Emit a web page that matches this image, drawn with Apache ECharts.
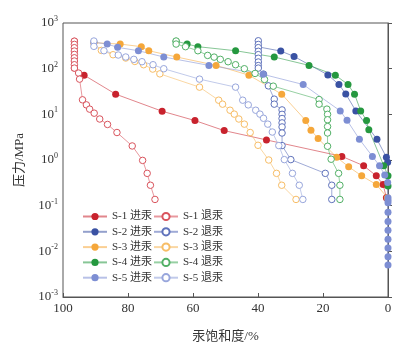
<!DOCTYPE html>
<html>
<head>
<meta charset="utf-8">
<script src="https://cdn.jsdelivr.net/npm/echarts@6/dist/echarts.min.js"></script>
<style>
  html, body { margin: 0; padding: 0; background: #fff; }
  #chart { width: 405px; height: 349px; }
</style>
</head>
<body>
<div id="chart"></div>
<script>
// Mercury intrusion / extrusion capillary pressure curves, samples S-1 ... S-5.
// Each point is [mercury saturation %, pressure MPa].

const sampleNames = ['S-1', 'S-2', 'S-3', 'S-4', 'S-5'];
const intrusionTag = '进汞';
const extrusionTag = '退汞';

const xTitle = '汞饱和度/%';
const yTitle = '压力/MPa';
const xTicks = [100, 80, 60, 40, 20, 0];
const yTickExponents = [-3, -2, -1, 0, 1, 2, 3];

const s1Intrusion = [[0.5, 0.15], [1.5, 0.29], [3.6, 0.45], [7.5, 0.75], [14.2, 1.2], [37.4, 2.75], [50.4, 4.4], [59.4, 7.3], [69.5, 11.7], [83.8, 27.7], [93.5, 72], [96.5, 103], [96.5, 400]];
const s1Extrusion = [[96.5, 400], [96.5, 340], [96.5, 288], [96.5, 243], [96.5, 205], [96.5, 173], [96.5, 147], [96.5, 122], [96.5, 103], [95.2, 80], [94.9, 59], [94.0, 20.8], [92.8, 16.1], [91.8, 13.0], [90.4, 10.6], [88.7, 7.9], [86.3, 6.0], [83.4, 4.0], [78.7, 2.03], [75.5, 0.98], [74.1, 0.51], [73.1, 0.28], [71.7, 0.137]];

const s2Intrusion = [[0.1, 0.89], [0.5, 1.15], [3.4, 2.85], [9.9, 11.9], [13.0, 28], [15.1, 45], [18.5, 73], [28.9, 185], [33.0, 243], [39.9, 300]];
const s2Extrusion = [[39.9, 408], [39.9, 339], [39.9, 289], [39.9, 240], [39.9, 203], [39.9, 169], [39.9, 140], [39.9, 117], [39.9, 103], [38.3, 76], [36.8, 42], [35.0, 21.5], [35.0, 16.7], [32.6, 12.5], [32.6, 10.0], [32.6, 8.1], [32.6, 6.5], [32.6, 5.3], [32.6, 3.9], [32.6, 2.07], [29.9, 1.02], [19.3, 0.51], [17.3, 0.28], [17.3, 0.137]];

const s3Intrusion = [[0.2, 0.15], [3.6, 0.29], [8.1, 0.45], [12.1, 0.71], [15.8, 1.15], [21.5, 2.95], [23.7, 4.5], [25.3, 7.3], [32.7, 27.7], [42.8, 72], [52.9, 118], [65.0, 180], [73.6, 247], [75.9, 303], [82.4, 346], [90.5, 370]];
const s3Extrusion = [[90.5, 370], [88.2, 251], [84.6, 202], [80.7, 171], [77.9, 144], [75.2, 122], [72.4, 98], [70.2, 77], [58.0, 39.4], [52.1, 20.4], [50.9, 16.7], [48.6, 12.3], [47.3, 10.1], [45.9, 7.9], [44.2, 6.1], [42.4, 4.0], [40.0, 2.1], [36.7, 1.0], [34.3, 0.51], [32.7, 0.28], [28.3, 0.137]];

const s4Intrusion = [[0, 0.27], [0, 0.45], [1.3, 0.75], [5.9, 4.6], [6.6, 7.3], [8.4, 11.9], [10.3, 27.7], [12.3, 45], [16.2, 72], [24.3, 118], [35.0, 180], [46.9, 247], [58.5, 303], [61.8, 346], [65.2, 400]];
const s4Extrusion = [[65.2, 403], [65.2, 346], [62.3, 303], [58.5, 247], [55.5, 195], [53.5, 179], [51.6, 160], [49.2, 142], [46.9, 122], [44.2, 99.6], [40.9, 78.6], [38.0, 58], [35.3, 41.4], [21.2, 21.1], [21.2, 16.7], [18.8, 13.0], [18.6, 10.0], [18.6, 7.6], [18.6, 5.4], [18.6, 3.9], [18.6, 2.0], [17.5, 1.04], [15.2, 0.51], [14.8, 0.28], [14.8, 0.137]];

const s5Intrusion = [[0, 0.005], [0, 0.0076], [0, 0.0119], [0, 0.0185], [0, 0.029], [0, 0.045], [0, 0.072], [0, 0.116], [0, 0.132], [0, 0.149], [0.1, 0.32], [1.0, 0.47], [2.6, 0.75], [4.8, 1.2], [8.8, 2.85], [12.6, 7.4], [14.7, 11.9], [26.1, 45], [38.4, 75], [55.1, 118], [69.0, 180], [76.8, 247], [83.2, 293], [86.4, 346], [90.5, 380]];
const s5Extrusion = [[90.5, 403], [90.5, 308], [87.4, 247], [83.0, 199], [80.7, 180], [78.2, 160], [75.7, 142], [72.3, 122], [69.0, 99.6], [58.0, 59], [46.9, 39.4], [44.7, 20.4], [43.0, 16.1], [40.7, 12.3], [39.4, 10.1], [38.3, 8.2], [37.0, 6.1], [35.6, 4.1], [33.6, 2.07], [31.9, 1.02], [29.4, 0.51], [27.3, 0.28], [26.2, 0.137]];

const intrusionData = [s1Intrusion, s2Intrusion, s3Intrusion, s4Intrusion, s5Intrusion];
const extrusionData = [s1Extrusion, s2Extrusion, s3Extrusion, s4Extrusion, s5Extrusion];

// Styling
const markerColors = ['#c8222d', '#3a52a3', '#f5a73a', '#25983f', '#7d8ed3'];
const hollowColors = ['#d9545d', '#5f72bb', '#f7bd66', '#52b066', '#98a6dc'];
const serifFont = '"Liberation Serif", "Times New Roman", "Noto Sans CJK SC", serif';
const textColor = '#333';
const frameColor = '#555';

const series = [];
sampleNames.forEach((name, i) => {
  series.push({
    name: name + ' ' + intrusionTag,
    type: 'line',
    data: intrusionData[i],
    symbol: 'circle',
    symbolSize: 7,
    itemStyle: { color: markerColors[i], borderWidth: 0 },
    lineStyle: { color: markerColors[i], width: 1, opacity: 0.55 },
    emphasis: { disabled: true },
    animation: false
  });
  series.push({
    name: name + ' ' + extrusionTag,
    type: 'line',
    data: extrusionData[i],
    symbol: 'circle',
    symbolSize: 6.5,
    itemStyle: { color: '#fff', borderColor: hollowColors[i], borderWidth: 1 },
    lineStyle: { color: hollowColors[i], width: 1, opacity: 0.6 },
    emphasis: { disabled: true },
    animation: false
  });
});

const legendCommon = {
  orient: 'vertical',
  top: 211,
  padding: 0,
  itemWidth: 24,
  itemHeight: 9,
  itemGap: 4.3,
  textStyle: { fontFamily: serifFont, fontSize: 11, color: textColor },
  selectedMode: false
};

const option = {
  backgroundColor: '#fff',
  animation: false,
  grid: {
    left: 63, right: 17, top: 23, bottom: 52,
    show: true, borderColor: frameColor, borderWidth: 1, backgroundColor: 'transparent'
  },
  legend: [
    Object.assign({}, legendCommon, { left: 82, data: sampleNames.map(n => n + ' ' + intrusionTag) }),
    Object.assign({}, legendCommon, { left: 153, data: sampleNames.map(n => n + ' ' + extrusionTag) })
  ],
  xAxis: {
    type: 'value',
    inverse: true,
    min: xTicks[xTicks.length - 1],
    max: xTicks[0],
    interval: 20,
    name: xTitle,
    nameLocation: 'middle',
    nameGap: 33,
    nameTextStyle: { fontFamily: serifFont, fontSize: 13, color: textColor },
    axisLine: { lineStyle: { color: frameColor, width: 1 } },
    axisTick: { inside: true, length: 4, lineStyle: { color: frameColor } },
    axisLabel: { fontFamily: serifFont, fontSize: 13, color: textColor, margin: 5 },
    splitLine: { show: false }
  },
  yAxis: {
    type: 'log',
    logBase: 10,
    min: Math.pow(10, yTickExponents[0]),
    max: Math.pow(10, yTickExponents[yTickExponents.length - 1]),
    name: yTitle,
    nameLocation: 'middle',
    nameGap: 37,
    nameTextStyle: { fontFamily: serifFont, fontSize: 13, color: textColor },
    axisLine: { show: true, lineStyle: { color: frameColor, width: 1 } },
    axisTick: { inside: true, length: 4, lineStyle: { color: frameColor } },
    axisLabel: {
      margin: 5,
      formatter: v => {
        const e = Math.round(Math.log10(v));
        return '{b|10}{s|' + (e < 0 ? '-' + (-e) : String(e)) + '}';
      },
      rich: {
        b: { fontFamily: serifFont, fontSize: 13, color: textColor },
        s: { fontFamily: serifFont, fontSize: 8, color: textColor, padding: [0, 0, 8, 0] }
      }
    },
    splitLine: { show: false }
  },
  series: series
};

const chart = echarts.init(document.getElementById('chart'), null, { renderer: 'canvas' });
chart.setOption(option);
</script>
</body>
</html>
